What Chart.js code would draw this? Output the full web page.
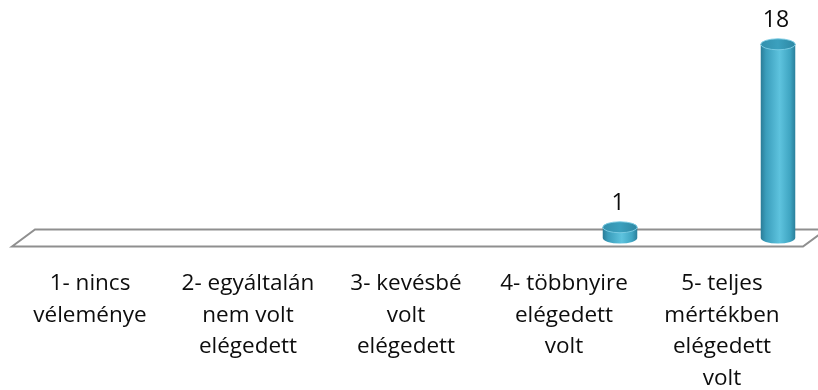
<!DOCTYPE html>
<html>
<head>
<meta charset="utf-8">
<script src="https://cdn.jsdelivr.net/npm/chart.js@4/dist/chart.umd.min.js"></script>
<style>
html,body{margin:0;padding:0;background:#fff;}
#wrap{width:818px;height:390px;}
</style>
</head>
<body>
<div id="wrap"><canvas id="c" width="818" height="390"></canvas></div>
<script>
const categories = [
  ["1- nincs", "véleménye"],
  ["2- egyáltalán", "nem volt", "elégedett"],
  ["3- kevésbé", "volt", "elégedett"],
  ["4- többnyire", "elégedett", "volt"],
  ["5- teljes", "mértékben", "elégedett", "volt"]
];
const values = [0, 0, 0, 1, 18];

const FONT = "'Open Sans', 'Liberation Sans', sans-serif";
const DEPTH_X = 56;

const floorPlugin = {
  id: 'floor',
  beforeDatasetsDraw(chart) {
    const ctx = chart.ctx;
    const xs = chart.scales.x, ys = chart.scales.y;
    const y0 = ys.getPixelForValue(0);
    const half = 8.5;
    const bl = xs.left + 1, br = xs.right + 2;
    const skew = 23;
    ctx.save();
    ctx.beginPath();
    ctx.moveTo(bl, y0 + half);
    ctx.lineTo(bl + skew, y0 - half);
    ctx.lineTo(br + skew, y0 - half);
    ctx.lineTo(br, y0 + half);
    ctx.closePath();
    ctx.fillStyle = '#ffffff';
    ctx.fill();
    ctx.strokeStyle = '#8f8f8f';
    ctx.lineWidth = 2;
    ctx.stroke();
    ctx.restore();
  }
};

const cylPlugin = {
  id: 'cyl',
  afterDatasetsDraw(chart) {
    const ctx = chart.ctx;
    const meta = chart.getDatasetMeta(0);
    meta.data.forEach((el, i) => {
      const v = values[i];
      if (!v) return;
      const cx = el.x + DEPTH_X;
      const rx = el.width / 2;
      const ry = 5.5;
      const top = el.y, base = el.base;
      ctx.save();
      const g = ctx.createLinearGradient(cx - rx, 0, cx + rx, 0);
      g.addColorStop(0, '#2a7c97');
      g.addColorStop(0.15, '#3a9dbb');
      g.addColorStop(0.55, '#5ec3de');
      g.addColorStop(0.85, '#3fa5c2');
      g.addColorStop(1, '#2a7f9b');
      ctx.beginPath();
      ctx.moveTo(cx - rx, top);
      ctx.lineTo(cx - rx, base);
      ctx.ellipse(cx, base, rx, ry, 0, Math.PI, 0, true);
      ctx.lineTo(cx + rx, top);
      ctx.closePath();
      ctx.fillStyle = g;
      ctx.fill();
      ctx.beginPath();
      ctx.ellipse(cx, top, rx, ry, 0, 0, Math.PI * 2);
      const tg = ctx.createLinearGradient(cx - rx, 0, cx + rx, 0);
      tg.addColorStop(0, '#3390ad');
      tg.addColorStop(0.5, '#3ba0be');
      tg.addColorStop(1, '#2d87a3');
      ctx.fillStyle = tg;
      ctx.fill();
      ctx.strokeStyle = 'rgba(125,205,228,0.9)';
      ctx.lineWidth = 1;
      ctx.stroke();
      ctx.fillStyle = '#0d0d0d';
      ctx.font = "23px " + FONT;
      ctx.textAlign = 'center';
      ctx.textBaseline = 'middle';
      ctx.fillText(String(v), cx - 2, top - 23.5);
      ctx.restore();
    });
  }
};

new Chart(document.getElementById('c'), {
  type: 'bar',
  data: {
    labels: categories,
    datasets: [{
      data: values,
      backgroundColor: 'rgba(0,0,0,0)',
      borderWidth: 0,
      barPercentage: 0.437,
      categoryPercentage: 0.5
    }]
  },
  options: {
    responsive: false,
    animation: false,
    devicePixelRatio: 1,
    layout: { padding: { left: 11, right: 17, top: 12, bottom: 0 } },
    plugins: { legend: { display: false }, tooltip: { enabled: false } },
    scales: {
      x: {
        grid: { display: false, drawTicks: false },
        border: { display: false },
        afterFit(scale) { scale.height = 152; },
        ticks: {
          color: '#0d0d0d',
          padding: 30,
          maxRotation: 0,
          minRotation: 0,
          autoSkip: false,
          font: { family: FONT, size: 22.5, lineHeight: '31.5px' }
        }
      },
      y: {
        display: false,
        min: 0,
        max: 21
      }
    }
  },
  plugins: [floorPlugin, cylPlugin]
});
</script>
</body>
</html>
